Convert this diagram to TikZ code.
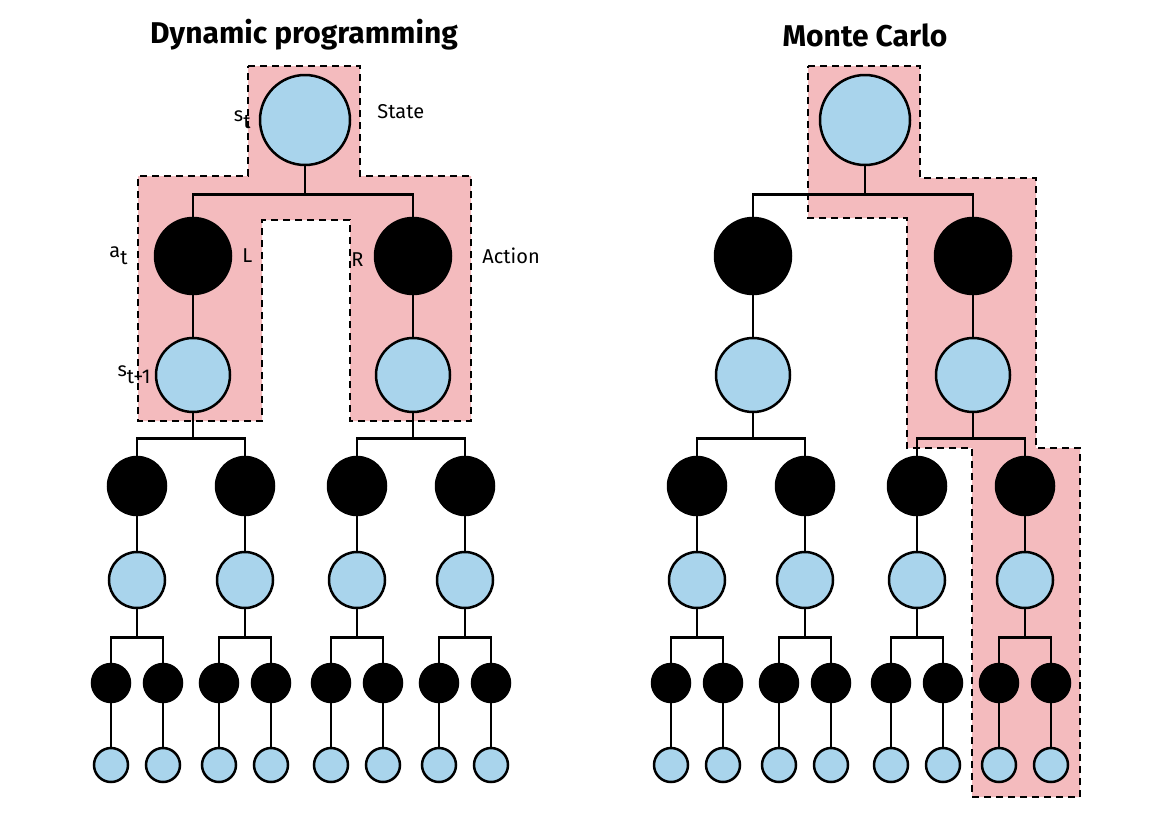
\documentclass[tikz,border=0pt]{standalone}
\usepackage{fontspec}
\setmainfont{Fira Sans}
\usetikzlibrary{positioning}
\definecolor{stblue}{RGB}{169,212,236}
\definecolor{bkpink}{RGB}{244,187,190}
\tikzset{
  state/.style={circle,draw=black,line width=2.5pt,fill=stblue,inner sep=0pt},
  action/.style={circle,draw=black,line width=2.5pt,fill=black,inner sep=0pt},
  edge/.style={line width=2.5pt},
  backup/.style={fill=bkpink,draw=black,line width=2.5pt,dash pattern=on 7pt off 5pt},
  lbl/.style={font=\fontsize{20}{24}\selectfont,inner sep=0pt},
  title/.style={font=\fontsize{30}{36}\selectfont\bfseries,inner sep=0pt}
}
\newcommand{\lowt}[1]{\raisebox{-0.35em}{#1}}
% one backup tree, node names prefixed by #1
\newcommand{\halftree}[1]{%
  \node[state,minimum size=90pt] (#1r) at (305,120) {};
  \foreach \i/\x in {1/193,2/413} {
    \node[action,minimum size=76pt] (#1a\i) at (\x,256) {};
    \node[state,minimum size=74pt] (#1s\i) at (\x,375) {};
    \draw[edge] (#1r.south) -- ++(0,28) -| (#1a\i.north);
    \draw[edge] (#1a\i) -- (#1s\i);
    \foreach \j/\dx in {1/-56,2/52} {
      \node[action,minimum size=58pt] (#1a\i\j) at (\x+\dx,486) {};
      \node[state,minimum size=56pt] (#1s\i\j) at (\x+\dx,580) {};
      \draw[edge] (#1s\i.south) -- ++(0,25) -| (#1a\i\j.north);
      \draw[edge] (#1a\i\j) -- (#1s\i\j);
      \foreach \k/\ex in {1/-26,2/26} {
        \node[action,minimum size=38pt] (#1a\i\j\k) at (\x+\dx+\ex,683) {};
        \node[state,minimum size=34pt] (#1s\i\j\k) at (\x+\dx+\ex,765) {};
        \draw[edge] (#1s\i\j.south) -- ++(0,28) -| (#1a\i\j\k.north);
        \draw[edge] (#1a\i\j\k) -- (#1s\i\j\k);
      }
    }
  }}

\begin{document}
\begin{tikzpicture}[x=1pt,y=-1pt]
  \useasboundingbox (0,0) rectangle (1162,812);

  % backed up regions
  \draw[backup] (248,66) -- (360,66) -- (360,176) -- (471,176) -- (471,421)
    -- (350,421) -- (350,220) -- (262,220) -- (262,421) -- (138,421)
    -- (138,176) -- (248,176) -- cycle;
  \draw[backup] (808,66) -- (920,66) -- (920,178) -- (1036,178) -- (1036,448)
    -- (1080,448) -- (1080,797) -- (972,797) -- (972,448) -- (907,448)
    -- (907,218) -- (808,218) -- cycle;

  % trees
  \begin{scope}
    \halftree{dp}
  \end{scope}
  \begin{scope}[shift={(560,0)}]
    \halftree{mc}
  \end{scope}

  \node[title] (dptitle) at (304,35) {Dynamic programming};
  \node[title] (mctitle) at (865,35) {Monte Carlo};

  \node[lbl,left=8pt of dpr] (st) {s\lowt{t}};
  \node[lbl,right=26pt of dpr,yshift=8pt] (statelbl) {State};
  \node[lbl,left=26pt of dpa1] (at) {a\lowt{t}};
  \node[lbl,right=10pt of dpa1] (llbl) {L};
  \node[lbl,left=10pt of dpa2,yshift=-4pt] (rlbl) {R};
  \node[lbl,right=30pt of dpa2] (actlbl) {Action};
  \node[lbl,left=4pt of dps1] (st1) {s\lowt{t+1}};
\end{tikzpicture}
\end{document}
